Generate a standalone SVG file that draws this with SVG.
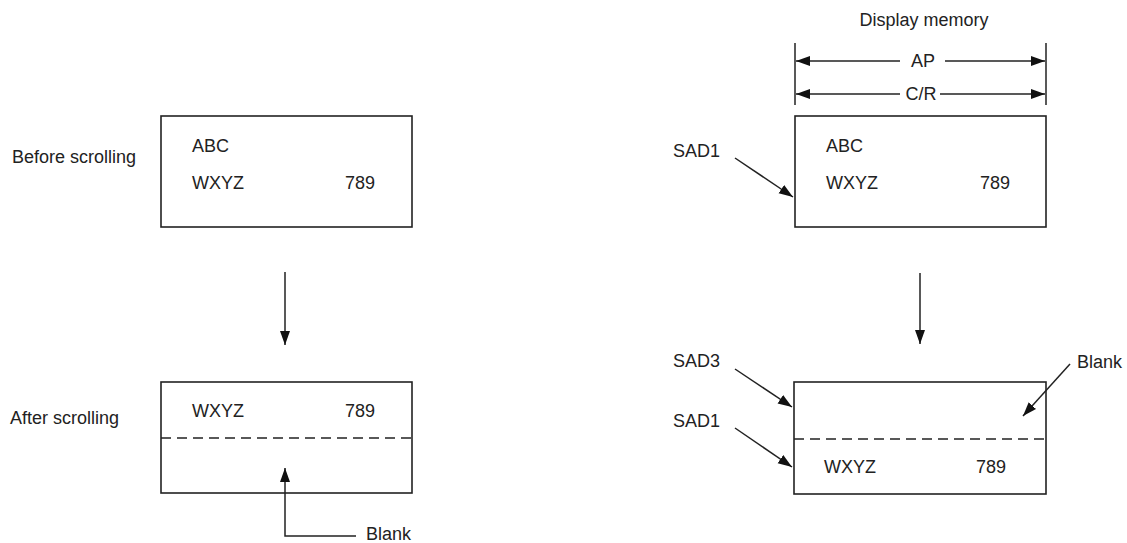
<svg xmlns="http://www.w3.org/2000/svg" width="1127" height="543" viewBox="0 0 1127 543">
<style>
text{font-family:"Liberation Sans",Arial,sans-serif;font-size:18px;fill:#222}
.box{fill:none;stroke:#222;stroke-width:1.6}
.ln{fill:none;stroke:#222;stroke-width:1.5}
.dash{fill:none;stroke:#222;stroke-width:1.5;stroke-dasharray:10 6}
.arr{fill:none;stroke:#222;stroke-width:1.5;marker-end:url(#ah)}
</style>
<defs>
<marker id="ah" markerUnits="userSpaceOnUse" markerWidth="16" markerHeight="12" refX="14" refY="5" orient="auto">
<path d="M0,0 L14,5 L0,10 z" fill="#111"/>
</marker>
</defs>
<rect width="1127" height="543" fill="#fff"/>

<g id="label-before"><text x="12" y="163">Before scrolling</text></g>
<g id="label-after"><text x="10" y="424">After scrolling</text></g>

<g id="left-before">
<rect class="box" x="161" y="116" width="251" height="111"/>
<text x="192" y="152">ABC</text>
<text x="192" y="189">WXYZ</text>
<text x="345" y="189">789</text>
</g>

<g id="left-after">
<rect class="box" x="161" y="382" width="251" height="111"/>
<text x="192" y="417">WXYZ</text>
<text x="345" y="417">789</text>
<line class="dash" x1="161" y1="438" x2="412" y2="438"/>
</g>

<g id="left-blank"><text x="366" y="540">Blank</text></g>

<g id="right-header">
<text x="924" y="26" text-anchor="middle">Display memory</text>
<text x="923" y="67" text-anchor="middle">AP</text>
<text x="921" y="100" text-anchor="middle">C/R</text>
</g>

<g id="right-before">
<rect class="box" x="795" y="116" width="251" height="111"/>
<text x="826" y="152">ABC</text>
<text x="826" y="189">WXYZ</text>
<text x="980" y="189">789</text>
</g>

<g id="right-after">
<rect class="box" x="794" y="382" width="252" height="112"/>
<line class="dash" x1="794" y1="439" x2="1046" y2="439"/>
<text x="824" y="473">WXYZ</text>
<text x="976" y="473">789</text>
</g>

<g id="right-labels">
<text x="673" y="157">SAD1</text>
<text x="673" y="367">SAD3</text>
<text x="673" y="427">SAD1</text>
<text x="1077" y="368">Blank</text>
</g>

<g id="connectors">
<line class="arr" x1="285" y1="272" x2="285" y2="345"/>
<path class="arr" d="M356,536 H285 V468"/>
<line class="arr" x1="920" y1="273" x2="920" y2="344"/>
<line class="ln" x1="795" y1="43" x2="795" y2="105"/>
<line class="ln" x1="1046" y1="43" x2="1046" y2="105"/>
<line class="arr" x1="900" y1="61" x2="796" y2="61"/>
<line class="arr" x1="945" y1="61" x2="1045" y2="61"/>
<line class="arr" x1="900" y1="94" x2="796" y2="94"/>
<line class="arr" x1="940" y1="94" x2="1045" y2="94"/>
<line class="arr" x1="735" y1="158" x2="793" y2="197"/>
<line class="arr" x1="735" y1="369" x2="792" y2="407"/>
<line class="arr" x1="735" y1="428" x2="792" y2="467"/>
<line class="arr" x1="1070" y1="364" x2="1023" y2="416"/>
</g>
</svg>
